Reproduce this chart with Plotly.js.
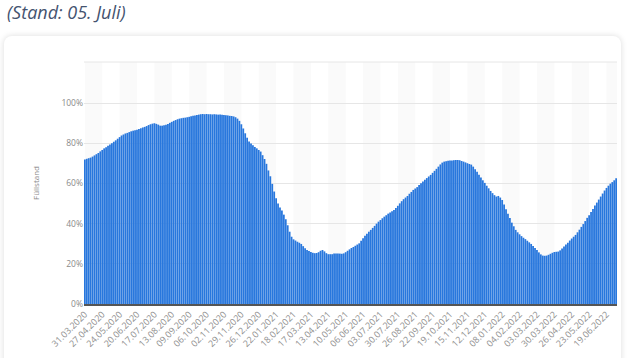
<!DOCTYPE html>
<html>
<head>
<meta charset="utf-8">
<script src="https://cdn.plot.ly/plotly-3.0.1.min.js"></script>
<style>
  html, body { margin:0; padding:0; background:#ffffff; width:630px; height:358px; overflow:hidden; }
  #card { position:absolute; left:4px; top:36px; width:617px; height:340px; border-radius:8px;
          background:#ffffff; box-shadow:0 0 6px rgba(0,0,0,0.14); }
  #chart { position:absolute; left:0; top:0; width:630px; height:358px; }
</style>
</head>
<body>
<div id="card"></div>
<div id="chart"></div>
<script>
// Füllstand (%) — one reading every 3 days starting 31.03.2020
const startDate = "2020-03-31";
const stepDays = 3;
const fuellstand = [
72,72.3,72.6,72.9,73.4,74,74.6,75.2,76,76.7,
77.5,78.1,78.8,79.4,80.1,80.8,81.5,82.3,83.1,83.9,
84.4,84.9,85.2,85.6,86,86.3,86.5,86.8,87.2,87.5,
87.9,88.2,88.6,89.1,89.5,89.8,90,89.7,89.3,88.8,
88.8,89,89.3,89.6,90.2,90.7,91.2,91.6,92,92.3,
92.5,92.7,92.8,93,93.2,93.5,93.7,93.9,94.1,94.3,
94.5,94.6,94.5,94.6,94.5,94.5,94.4,94.5,94.4,94.3,
94.3,94.2,94.1,94,93.9,93.7,93.6,93.4,93,92.3,
91.2,89.5,87.4,85,82.8,80.9,79.9,79,78.2,77.5,
76.7,75.9,74.1,72.2,69.8,66.5,63.6,59.8,56,52.6,
50,48,46.5,44.5,42.2,39.2,36,33.5,32.2,31.6,
31,30.5,29.9,28.8,27.7,26.9,26.4,25.9,25.5,25.3,
25.4,25.8,26.5,26.9,26.2,25.3,24.8,24.8,24.8,25.1,
25.2,25.2,25.1,25,25.2,25.8,26.5,27.2,27.9,28.4,
29,29.6,30.2,31.5,32.7,34,35,36,36.9,37.9,
38.9,40,41,41.8,42.7,43.5,44.2,45,45.6,46.2,
46.8,47.8,48.9,50.1,51.2,52.2,53,53.8,54.9,55.8,
56.8,57.5,58.2,59.2,60.1,61,61.9,62.7,63.5,64.3,
65.3,66.3,67.3,68.4,69.5,70.4,70.9,71.1,71.3,71.4,
71.5,71.6,71.7,71.7,71.6,71.2,70.9,70.5,70.1,69.7,
69.4,68.4,67.1,65.8,64.4,63,61.6,60.3,58.9,57.6,
56.3,55.2,54.2,53.5,53.8,53,51.8,49.5,47.2,45,
42.8,40.5,38.7,36.9,35.7,34.7,33.8,33,32.3,31.5,
30.7,29.9,28.9,27.9,26.9,25.7,24.7,24.1,24,24.1,
24.5,25,25.5,25.9,26,26.1,26.7,27.6,28.6,29.6,
30.5,31.6,32.6,33.5,34.4,35.7,37,38.4,39.8,41.3,
42.9,44.2,45.8,47.3,49,50.5,52,53.5,55,56.5,
57.8,58.9,59.9,60.7,61.6,62.6
];
const tickLabels = [
"31.03.2020","27.04.2020","24.05.2020","20.06.2020","17.07.2020","13.08.2020",
"09.09.2020","06.10.2020","02.11.2020","29.11.2020","26.12.2020","22.01.2021",
"18.02.2021","17.03.2021","13.04.2021","10.05.2021","06.06.2021","03.07.2021",
"30.07.2021","26.08.2021","22.09.2021","19.10.2021","15.11.2021","12.12.2021",
"08.01.2022","04.02.2022","03.03.2022","30.03.2022","26.04.2022","23.05.2022",
"19.06.2022"
];
const yTicks = [0,20,40,60,80,100];
const yTickLabels = ["0%","20%","40%","60%","80%","100%"];
const titleText = "(Stand: 05. Juli)";
const yTitle = "Füllstand";

// ---- build ----
function isoFromGerman(s){ const p=s.split("."); return p[2]+"-"+p[1]+"-"+p[0]; }
function addDays(iso, d){
  const t = new Date(iso+"T00:00:00Z"); t.setUTCDate(t.getUTCDate()+d);
  return t.toISOString().slice(0,10);
}
const dates = fuellstand.map((v,i)=>addDays(startDate, i*stepDays));
const tickVals = tickLabels.map(isoFromGerman);

const halfBar = 1.3*24*3600*1000;
const xStart = new Date(new Date(dates[0]+"T00:00:00Z").getTime()-halfBar).toISOString();
const xEnd = new Date(new Date(dates[dates.length-1]+"T00:00:00Z").getTime()+halfBar).toISOString();

const shapes = [];
for (let i=0;i<tickVals.length;i+=2){
  const x1 = (i+1<tickVals.length)? tickVals[i+1] : xEnd;
  shapes.push({type:"rect", xref:"x", yref:"paper", x0:tickVals[i], x1:x1, y0:0, y1:1,
               fillcolor:"#fafafa", line:{width:0}, layer:"below"});
}
shapes.push({type:"line", xref:"paper", yref:"paper", x0:0, x1:1, y0:1, y1:1,
             line:{color:"#e6e6e6", width:1}});

const trace = {
  type:"bar", x:dates, y:fuellstand,
  marker:{color:"#2877dd", line:{width:0}},
  hoverinfo:"skip"
};

const layout = {
  width:630, height:358,
  margin:{l:84, r:13, t:62, b:54},
  paper_bgcolor:"rgba(0,0,0,0)",
  plot_bgcolor:"#ffffff",
  bargap:0.08,
  showlegend:false,
  font:{family:"Open Sans, sans-serif", color:"#888"},
  xaxis:{
    type:"date", range:[xStart, xEnd],
    tickvals:tickVals, ticktext:tickLabels,
    tickangle:-45, tickfont:{size:9, color:"#8e8e8e"},
    showgrid:false, ticks:"", zeroline:false,
    showline:true, linecolor:"#555", linewidth:1.5
  },
  yaxis:{
    range:[0,120.5], tickvals:yTicks, ticktext:yTickLabels,
    tickfont:{size:8.5, color:"#8a8a8a"},
    gridcolor:"#e6e6e6", gridwidth:1, zeroline:false, showline:false, ticks:"",
    title:{text:yTitle, font:{size:8, color:"#8a8a8a"}, standoff:20}
  },
  shapes:shapes,
  annotations:[{
    text:titleText, xref:"paper", yref:"paper",
    x:-0.148, y:1.205, xanchor:"left", yanchor:"middle", showarrow:false,
    font:{family:"Open Sans, sans-serif", size:18, color:"#44536f", style:"italic"}
  }]
};

Plotly.newPlot("chart", [trace], layout, {displayModeBar:false, staticPlot:true});
</script>
</body>
</html>
